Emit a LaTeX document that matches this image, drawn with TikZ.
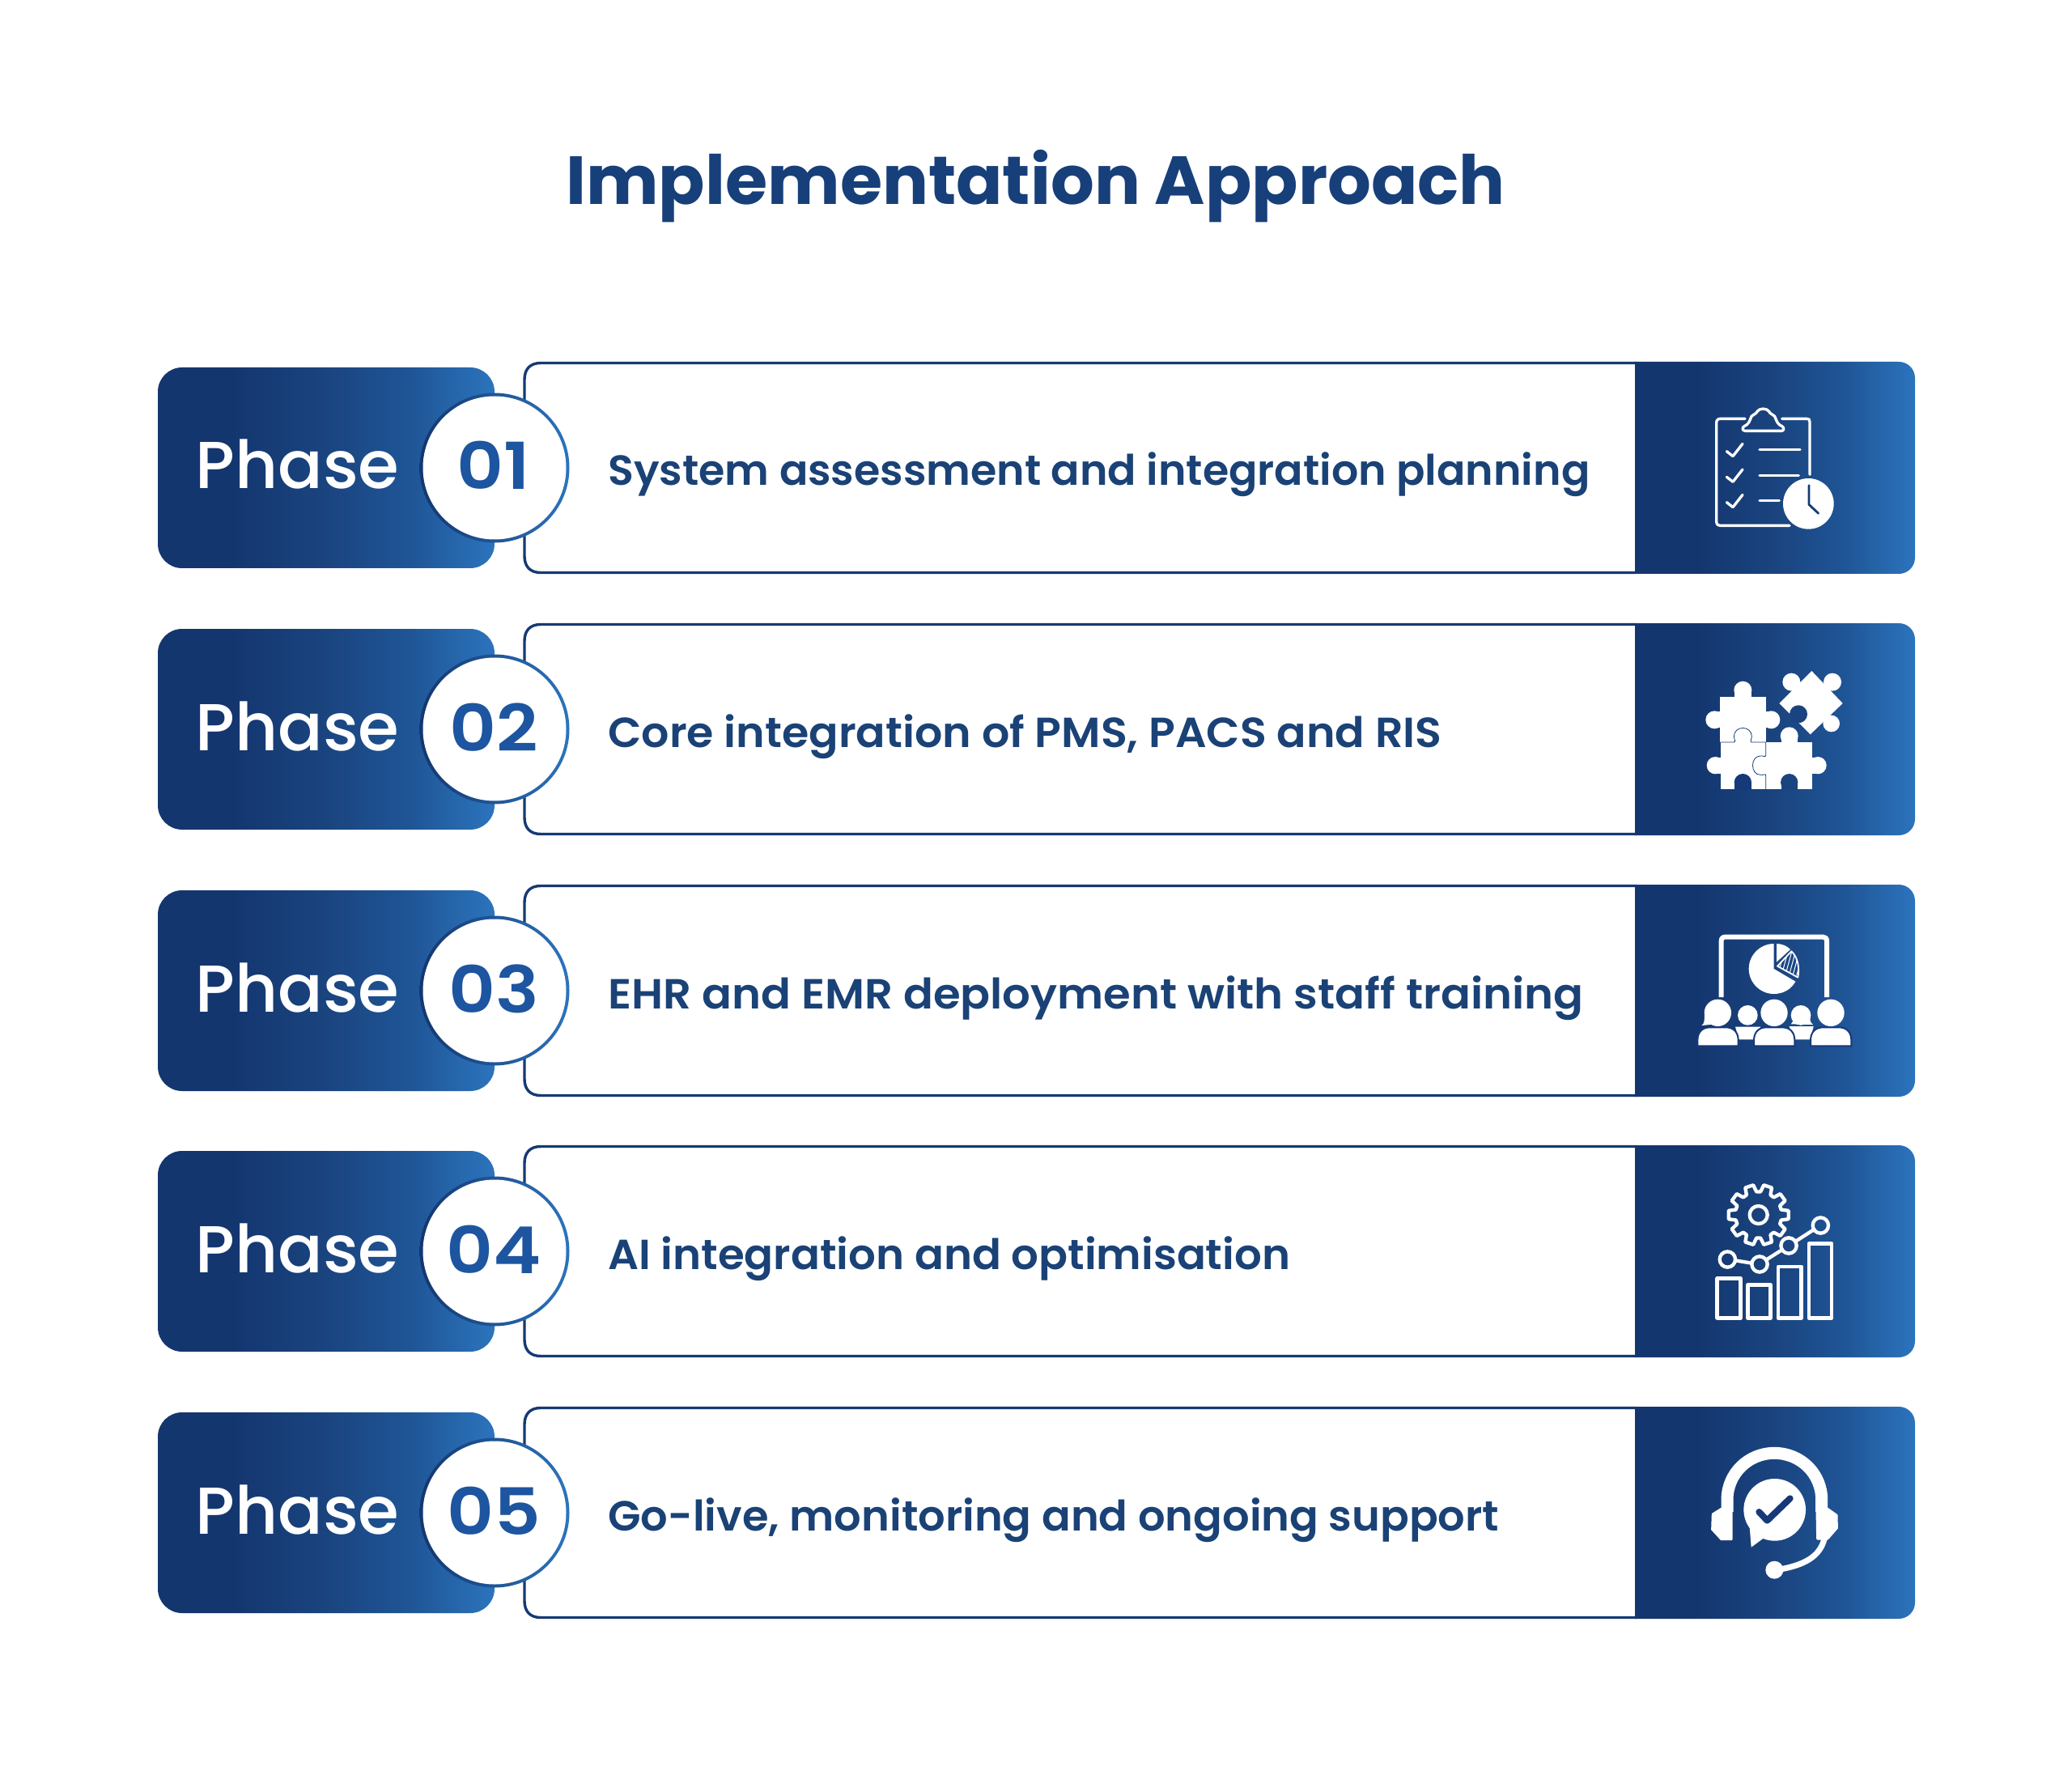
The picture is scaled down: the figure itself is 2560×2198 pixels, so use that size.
\documentclass[tikz,border=0pt]{standalone}
\usepackage{fontspec}
\usepackage{graphicx}
\usetikzlibrary{calc}
\newfontfamily\titlefont[FakeStretch=1.007]{Poppins Bold}
\newfontfamily\bodyfont{Poppins SemiBold}
\newfontfamily\phasefont{Poppins Medium}
\newfontfamily\numfont[FakeStretch=1.12]{Poppins SemiBold}
\definecolor{navy}{HTML}{163A73}
\definecolor{titleblue}{HTML}{173F7A}
\definecolor{bodyblue}{HTML}{1A4276}
\definecolor{gA}{HTML}{14366F}
\definecolor{gB}{HTML}{1A447F}
\definecolor{gC}{HTML}{1F5596}
\definecolor{gD}{HTML}{2C74BD}
\definecolor{numblue}{HTML}{1D55A0}
\definecolor{bgA}{HTML}{16397A}
\definecolor{bgB}{HTML}{1A447F}
\pgfdeclarehorizontalshading{bluegrad}{100bp}{color(0bp)=(gA); color(25bp)=(gA); color(36bp)=(gA); color(50bp)=(gB); color(62.5bp)=(gC); color(75bp)=(gD); color(100bp)=(gD)}
\pgfdeclarehorizontalshading{ringgrad}{100bp}{color(0bp)=(gA); color(25bp)=(gA); color(75bp)=(gD); color(100bp)=(gD)}
\tikzset{
  leftbox/.style={shading=bluegrad,rounded corners=15pt,minimum width=208pt,minimum height=124pt,inner sep=0pt,draw=none},
  rowbox/.style={draw=navy,line width=1.7pt,fill=white},
  panelfill/.style={shading=bluegrad},
  ring/.style={circle,shading=ringgrad,minimum size=92.5pt,inner sep=0pt,draw=none},
  disc/.style={circle,fill=white,minimum size=88.5pt,inner sep=0pt,draw=none},
  titletext/.style={inner sep=0pt,anchor=base west,text=titleblue,font=\titlefont\fontsize{42}{50}\selectfont},
  phasetext/.style={inner sep=0pt,anchor=base west,text=white,font=\phasefont\fontsize{41}{44}\selectfont},
  numtext/.style={inner sep=0pt,anchor=base,text=numblue,font=\numfont\fontsize{40}{44}\selectfont},
  bodytext/.style={inner sep=0pt,anchor=base west,text=bodyblue,font=\bodyfont\fontsize{26}{30}\selectfont},
  wl/.style={draw=white,line width=#1*0.16667pt,line cap=round,line join=round},
  icon/.style={x=0.16667pt,y=-0.16667pt},
}
\newcommand{\iconclip}{%
  \draw[wl=10] (408,217) -- (318,217) .. controls (307,217) and (302,222) .. (302,233) -- (302,597) .. controls (302,608) and (307,613) .. (318,613) -- (573,613);
  \draw[wl=10] (545,217) -- (636,217) .. controls (645,217) and (648,220) .. (648,229) -- (648,424);
  \draw[wl=10] (408,262) -- (545,262) .. controls (553,262) and (553,248) .. (545,245) .. controls (528,238) and (525,225) .. (518,208) .. controls (512,200) and (500,200) .. (497,190) .. controls (488,177) and (462,177) .. (453,190) .. controls (450,200) and (438,200) .. (432,208) .. controls (425,225) and (422,238) .. (405,245) .. controls (397,248) and (397,262) .. (408,262) -- cycle;
  \foreach \d in {0,95,189}{\draw[wl=10] (340,338+\d) -- (363,356+\d) -- (399,310+\d);}
  \draw[wl=10] (462,332) -- (612,332);
  \draw[wl=10] (462,427) -- (607,427);
  \draw[wl=10] (462,521) -- (535,521);
  \fill[white] (643,532) circle[radius=94];
  \draw[navy,line width=1.4pt,line cap=round,line join=round] (645,464) -- (645,535) -- (680,568);
}
\newcommand{\iconpuzzle}{%
  % piece A
  \fill[white] (315,272) rectangle (487,442);
  \fill[white] (400,248) circle[radius=33];
  \fill[white] (370,258) rectangle (431,275);
  \fill[white] (295,358) circle[radius=33];
  \fill[white] (290,328) rectangle (318,388);
  \fill[white] (505,358) circle[radius=33];
  \fill[white] (485,328) rectangle (510,388);
  % piece B
  \fill[white] (317,442) rectangle (485,615);
  \fill[white] (298,527) circle[radius=32];
  \fill[white] (300,497) rectangle (320,557);
  % piece C
  \fill[white] (487,442) rectangle (658,615);
  \fill[white] (572,418) circle[radius=33];
  \fill[white] (542,428) rectangle (603,445);
  \fill[white] (678,527) circle[radius=32];
  \fill[white] (655,497) rectangle (682,557);
  % notches
  \fill[bgA] (400,590) circle[radius=32];
  \fill[bgA] (370,590) rectangle (431,618);
  \fill[bgB] (572,590) circle[radius=32];
  \fill[bgB] (542,590) rectangle (603,618);
  % joints
  \draw[navy,line width=0.4pt] (317,441) -- (367,441) .. controls (375,441) and (368,430) .. (367,420) .. controls (367,378) and (433,378) .. (433,420) .. controls (432,430) and (425,441) .. (433,441) -- (485,441) -- (485,490) .. controls (485,498) and (475,490) .. (465,492) .. controls (427,492) and (427,562) .. (465,562) .. controls (475,564) and (485,556) .. (485,564) -- (485,615);
  % piece D
  \fill[white] (655,177) -- (770,297) -- (650,412) -- (535,297) -- cycle;
  \fill[white] (580,218) circle[radius=33];
  \fill[white] (732,218) circle[radius=33];
  \fill[white] (728,372) circle[radius=31];
  \fill[bgB] (606,337) circle[radius=33];
  \fill[bgB] (606,337) -- (575,338) -- (610,368) -- cycle;
}
\newcommand{\iconboard}{%
  \draw[draw=white,line width=3pt,line join=round] (320,420) -- (320,212) .. controls (320,202) and (325,197) .. (335,197) -- (697,197) .. controls (706,197) and (711,202) .. (711,212) -- (711,420);
  \fill[white] (515,315) -- (515,222) .. controls (464,222) and (422,264) .. (422,315) .. controls (422,366) and (464,408) .. (515,408) .. controls (550,408) and (580,390) .. (595,362) -- cycle;
  \fill[white] (525,290) -- (525,222) .. controls (545,222) and (563,230) .. (576,243) -- cycle;
  \begin{scope}
    \clip (528,305) -- (580,250) .. controls (600,268) and (612,305) .. (604,347) -- cycle;
    \foreach \d in {0,14,...,112}{\draw[white,line width=0.5pt] (515+\d,340) -- (545+\d,230);}
  \end{scope}
  \draw[white,line width=0.9pt,line join=round] (528,305) -- (580,250) .. controls (600,268) and (612,305) .. (604,347) -- cycle;
  % back people
  \fill[white] (418,487) circle[radius=37];
  \fill[white] (372,530) -- (465,530) -- (465,577) -- (385,577) -- cycle;
  \fill[white] (615,487) circle[radius=37];
  \fill[white] (578,520) -- (660,522) .. controls (645,510) and (650,500) .. (650,480) -- (600,490) -- cycle;
  \fill[white] (572,528) -- (662,528) -- (650,577) -- (585,577) -- cycle;
  % front people
  \foreach \xl/\cx in {232/307,441/516,651/726}{
    \fill[white] (\cx,478) circle[radius=50];
    \filldraw[fill=white,draw=bgA,line width=1pt] (\xl,601) -- (\xl,580) .. controls (\xl,548) and (\xl+20,532) .. (\xl+45,532) -- (\xl+106,532) .. controls (\xl+131,532) and (\xl+151,548) .. (\xl+151,580) -- (\xl+151,601) -- cycle;
  }
  \fill[white] (247,525) .. controls (258,520) and (258,500) .. (258,480) -- (300,520) -- cycle;
}
\newcommand{\icongear}{%
  \draw[wl=13] ($(458,258)+(85:86)$) \foreach \a in {72,36,...,-252}{ -- ($(458,258)+(\a+13:86)$) -- ($(458,258)+(\a+8:112)$) -- ($(458,258)+(\a-8:112)$) -- ($(458,258)+(\a-13:86)$)} -- cycle;
  \draw[wl=13] (458,258) circle[radius=33];
  \draw[wl=13] (343,423) circle[radius=29];
  \draw[wl=13] (462,441) circle[radius=29];
  \draw[wl=13] (570,372) circle[radius=29];
  \draw[wl=13] (688,297) circle[radius=29];
  \draw[wl=13] (372,427) -- (433,437);
  \draw[wl=13] (486,425) -- (546,387);
  \draw[wl=13] (594,357) -- (664,312);
  \draw[wl=14] (305,494) rectangle (392,640);
  \draw[wl=14] (418,518) rectangle (503,640);
  \draw[wl=14] (531,450) rectangle (617,640);
  \draw[wl=14] (645,365) rectangle (729,640);
}
\newcommand{\iconhead}{%
  \draw[draw=white,line width=7.5pt] (342,390) -- (342,345) .. controls (342,248) and (420,172) .. (517,172) .. controls (614,172) and (692,248) .. (692,345) -- (692,390);
  \filldraw[fill=white,draw=white,line width=1.2pt,line join=round] (320,378) -- (288,398) -- (286,455) -- (320,492) -- (358,492) -- (358,378) -- cycle;
  \filldraw[fill=white,draw=white,line width=1.2pt,line join=round] (714,378) -- (748,402) -- (749,450) -- (714,490) -- (676,490) -- (674,378) -- cycle;
  \draw[draw=white,line width=3.6pt,line cap=round] (702,490) .. controls (685,555) and (630,588) .. (525,605);
  \fill[white] (517,605) circle[radius=33];
  \fill[white] (518,382) circle[radius=115];
  \fill[white] (425,445) -- (431,521) -- (480,485) -- cycle;
  \draw[bgA,line width=4pt,line cap=round,line join=round] (460,390) -- (490,422) -- (575,340);
}
\begin{document}
\begin{tikzpicture}[x=0.5pt,y=-0.5pt]
\useasboundingbox (0,0) rectangle (2560,2198);
\fill[white] (0,0) rectangle (2560,2198);
\node[titletext] (title) at (699,253) {Implementation Approach};
\foreach \i/\y/\crop/\sx/\txt in {
  1/578/445/1.005/{System assessment and integration planning},
  2/901/770/1.036/{Core integration of PMS, PACS and RIS},
  3/1224/1092/1.048/{EHR and EMR deployment with staff training},
  4/1546/1415/1.02/{AI integration and optimisation},
  5/1869/1738/1.014/{Go-live, monitoring and ongoing support}}{
  \draw[rowbox] (2022,\y-129.5) -- (668,\y-129.5) .. controls (655,\y-129.5) and (648,\y-122) .. (648,\y-109) -- (648,\y+109) .. controls (648,\y+122) and (655,\y+129.5) .. (668,\y+129.5) -- (2022,\y+129.5);
  \shade[panelfill] (2020,\y-131) [rounded corners=10pt] -- (2366,\y-131) -- (2366,\y+131) [sharp corners] -- (2020,\y+131) -- cycle;
  \node[leftbox] (phase\i) at (403,\y) {};
  \node[ring] (ring\i) at (611,\y) {};
  \node[disc] (disc\i) at (ring\i.center) {};
  \node[phasetext] (plabel\i) at (241,\y+26) {Phase};
  \node[numtext] (num\i) at (610,\y+27) {0\i};
  \node[bodytext] (body\i) at (751,\y+22) {\scalebox{\sx}[1]{\txt}};
  \begin{scope}[shift={(2020,\crop)},icon]
    \ifcase\i\or\iconclip\or\iconpuzzle\or\iconboard\or\icongear\or\iconhead\fi
  \end{scope}
}
\end{tikzpicture}
\end{document}
